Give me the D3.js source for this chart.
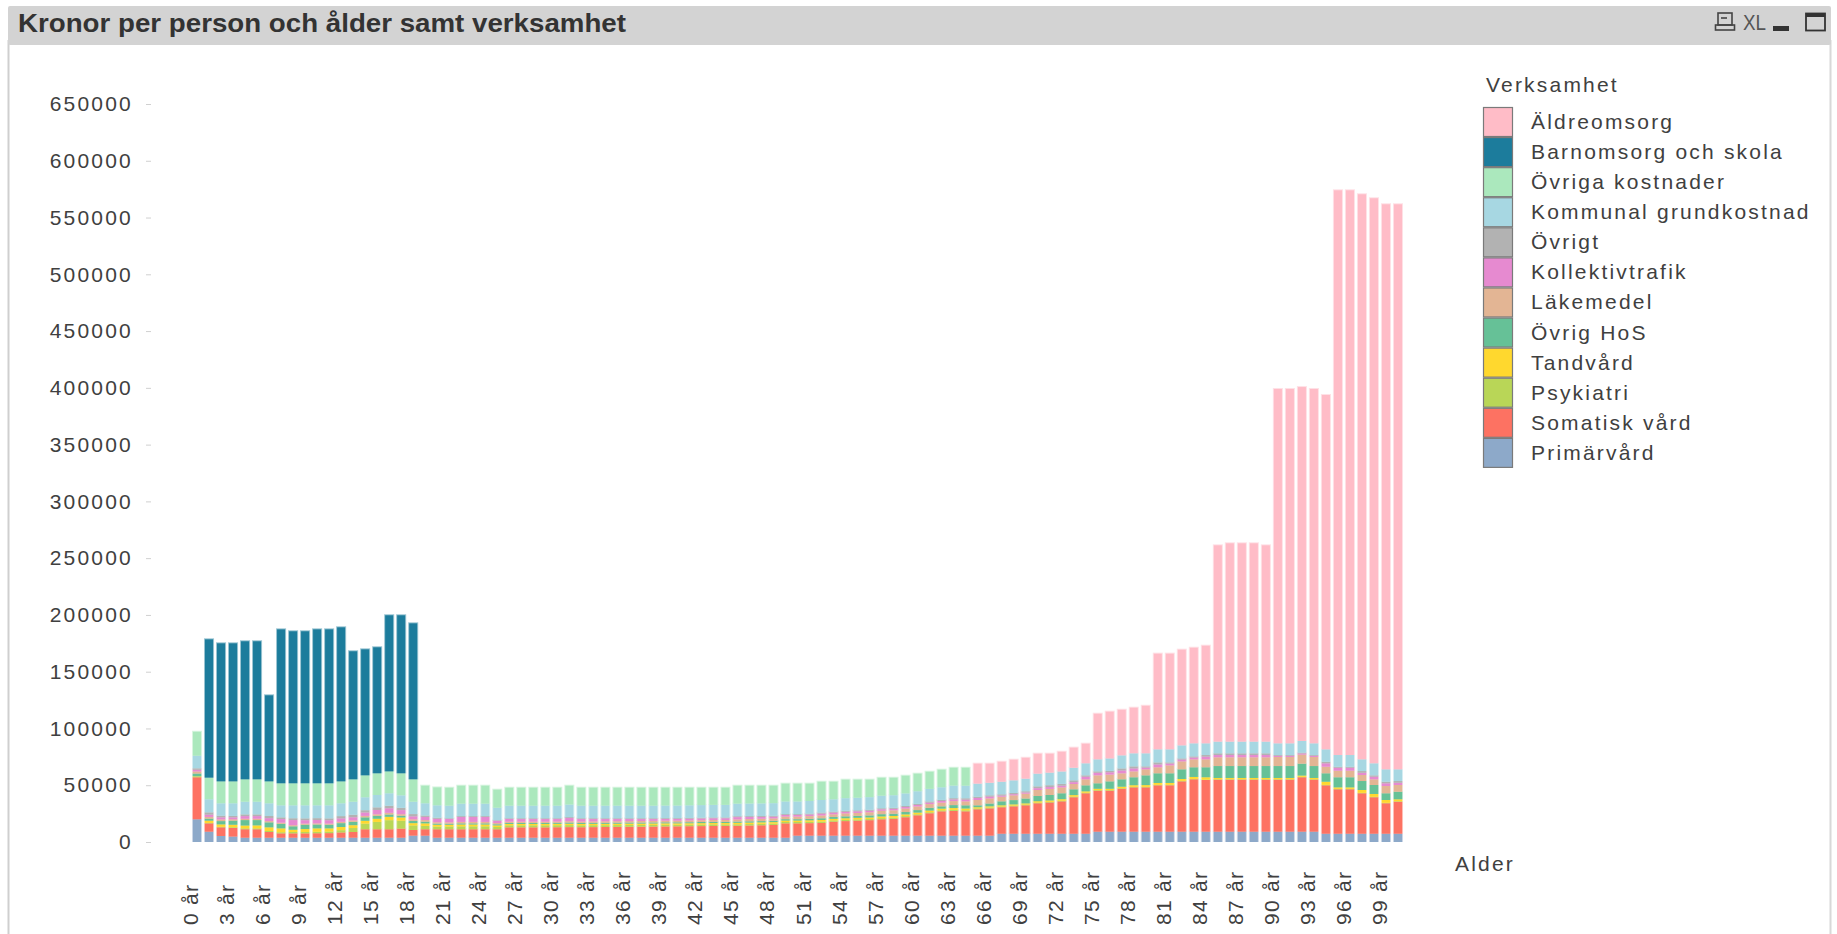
<!DOCTYPE html>
<html><head><meta charset="utf-8">
<script src="https://cdn.jsdelivr.net/npm/d3@7"></script>
<style>
body{margin:0;background:#fff;}
svg text{font-family:"Liberation Sans",Arial,sans-serif;}
</style>
</head><body>
<svg id="chart" width="1837" height="934"></svg>
<script>
// ---------- DATA ----------
const ages = [0,1,2,3,4,5,6,7,8,9,10,11,12,13,14,15,16,17,18,19,20,21,22,23,24,25,26,27,28,29,30,31,32,33,34,35,36,37,38,39,40,41,42,43,44,45,46,47,48,49,50,51,52,53,54,55,56,57,58,59,60,61,62,63,64,65,66,67,68,69,70,71,72,73,74,75,76,77,78,79,80,81,82,83,84,85,86,87,88,89,90,91,92,93,94,95,96,97,98,99,100];
const xTickAges = [0,3,6,9,12,15,18,21,24,27,30,33,36,39,42,45,48,51,54,57,60,63,66,69,72,75,78,81,84,87,90,93,96,99];
const yTicks = [0,50000,100000,150000,200000,250000,300000,350000,400000,450000,500000,550000,600000,650000];

const primarvard = [20000,9100,5300,4800,3800,3800,3800,3800,3800,3800,
 3800,3800,3800,3800,3800,3800,3800,3800,5600,5600,
 3800,3800,3800,3800,3800,3800,3800,3800,3800,3800,
 3800,3800,3800,3800,3800,3800,3800,3800,3800,3800,
 3800,3800,3800,3800,3800,3800,3800,3800,3800,3800,
 5600,5600,5600,5600,5600,5600,5600,5600,5600,5600,
 5600,5600,5600,5600,5600,5600,5600,7300,7300,7300,
 7300,7300,7300,7300,7300,9100,9100,9100,9100,9100,
 9100,9100,9100,9100,9100,9100,9100,9100,9100,9100,
 9100,9100,9100,9100,7300,7300,7300,7300,7300,7300,
 7300];
const somatiskVard = [37000,7300,7600,7600,7400,7400,5000,3800,3800,3800,
 3900,4000,4600,5000,7400,7400,7400,8000,5000,5600,
 7400,7400,7400,7400,7400,7400,9100,9100,9100,9100,
 9200,9300,9200,9300,9400,9500,9600,9700,9800,9900,
 10000,10100,10200,10300,10400,10500,10700,10900,11200,12600,
 10800,11000,11200,12300,12800,13200,13600,14400,14800,16200,
 17900,19700,21400,21800,21400,23200,24000,23300,24100,25000,
 26800,27500,28500,32100,35600,36100,36100,37800,39000,39000,
 40800,40800,44300,46100,45500,45800,45800,45800,45800,45800,
 45800,45800,47900,45800,42600,39100,39100,35600,32100,26800,
 28200];
const psykiatri = [300,400,500,600,800,800,900,1000,1200,1200,
 1300,1400,2000,3500,5000,6500,8000,7000,4000,3000,
 2400,2500,2600,2600,2600,2000,1800,1800,1800,1800,
 1800,1800,1700,1700,1600,1600,1600,1500,1500,1500,
 1400,1400,1400,1400,1300,1300,1300,1300,1200,1200,
 1200,1200,1200,1100,1100,1100,1000,1000,1000,1000,
 900,900,900,900,900,800,800,700,700,700,
 600,600,600,600,500,500,500,500,500,500,
 500,500,500,400,400,400,400,400,400,400,
 400,400,400,400,400,400,400,400,400,400,
 400];
const tandvard = [500,2000,2100,2200,2500,2600,3200,3400,2000,2600,
 3000,2800,2800,2500,2500,2800,3000,2800,2000,2200,
 1600,1500,1600,1600,1600,1400,1200,1200,1200,1200,
 1200,1200,1200,1200,1200,1200,1200,1200,1200,1200,
 1200,1200,1200,1200,1200,1300,1300,1300,1300,1300,
 1300,1300,1400,1400,1400,1400,1400,1500,1500,1500,
 1500,1500,1500,1600,1600,1000,1000,1000,1000,1000,
 1200,1200,1300,1300,1200,1200,1200,1300,1400,1500,
 1600,1600,1600,1700,2000,1100,1100,1100,1100,1100,
 1100,1100,1100,1100,2800,1300,1300,2500,2500,2500,
 1700];
const ovrigHoS = [2500,1800,2900,3600,4800,4700,4400,4000,3000,3800,
 3400,3200,3400,3000,3000,2500,2000,1500,2000,1500,
 1000,900,1000,1000,1000,1000,900,900,900,900,
 900,1000,900,900,900,900,900,900,900,900,
 900,900,1000,1000,1000,1100,1100,1100,1100,1200,
 1200,1300,1500,1600,1700,1700,1800,2000,2000,2100,
 2200,2400,2000,2600,2800,1700,2500,3500,3800,4300,
 4600,4800,5200,5100,5300,4800,6500,6500,7000,8600,
 8500,8500,8500,8500,8800,10500,10500,10500,10500,10500,
 10500,10500,10500,10500,7400,8900,8900,7900,7900,5900,
 6700];
const lakemedel = [1800,1500,1500,1200,1200,1200,1100,1000,1000,1000,
 1000,1000,1200,1200,1300,1400,1500,1400,1400,1400,
 1200,1200,1300,1300,1300,1100,1100,1100,1100,1100,
 1100,1200,1200,1200,1300,1300,1300,1400,1400,1500,
 1500,1600,1600,1700,1700,1900,2000,2100,2200,2300,
 2300,2400,2500,2400,2600,2600,2800,3000,3000,3100,
 3200,3300,3300,3500,3500,4700,4500,4100,4200,4300,
 5300,5400,5200,4700,5300,7000,6000,5300,5200,5300,
 5300,7000,7000,7000,7000,7700,7700,7700,7700,7700,
 8000,8000,8000,8000,5800,5800,5800,5300,5000,6400,
 5900];
const kollektivtrafik = [1500,2000,1800,1700,2300,2300,2600,3200,4500,3000,
 3000,3000,3000,2800,3000,3800,4000,3600,2600,2800,
 3000,3000,4300,4300,4300,2000,2400,2300,2300,2300,
 2200,2800,2200,2100,2000,1900,1800,1700,1600,1500,
 1500,1500,1500,1500,1500,2000,1800,1600,1500,1400,
 1400,1400,1600,1500,1400,1400,1300,1300,1300,1300,
 1300,1300,1400,1500,1500,1800,1600,1000,1000,1000,
 1600,1600,1500,1600,2300,2300,2000,2500,2600,1500,
 2500,1600,1600,1600,2400,2000,2000,2000,2000,2000,
 1000,1000,1000,1000,3000,2600,2600,2000,2300,2400,
 2000];
const ovrigt = [1300,2000,1500,1300,1500,1500,1900,1500,1600,1600,
 1600,1600,2000,2200,2000,2300,2200,2000,2000,1200,
 1000,600,800,800,800,500,600,700,700,700,
 700,800,700,700,700,700,700,700,700,700,
 700,700,700,700,700,800,800,800,800,800,
 800,800,900,800,900,900,900,900,900,900,
 1000,1000,1000,1100,1200,1100,1100,1100,1100,1100,
 1600,1600,1600,1600,1200,1200,1200,1800,1800,1100,
 1800,1000,1000,1000,1400,1500,1500,1500,1500,1500,
 700,700,700,700,1400,900,900,1500,1200,1400,
 1500];
const kommunalGrundkostnad = [11100,11500,10900,11100,11200,11200,11200,10600,11400,11500,
 11300,11500,11300,11500,11400,10900,11000,11000,10900,10800,
 10900,11100,11000,11000,11000,11000,11100,11100,11100,11100,
 11100,11100,11100,11100,11100,11100,11100,11100,11100,11100,
 11100,11100,11100,11100,11100,11100,11100,11100,11100,11100,
 11100,11100,11100,10900,11100,11100,11100,11100,11100,11100,
 11100,11100,11100,11100,11100,11500,11100,11100,11100,11100,
 11200,11100,10900,11100,10600,10600,11000,11500,11500,11500,
 11500,11500,11500,11500,10300,10300,10300,10300,10300,10300,
 10300,10300,10300,10300,10900,10300,10300,10300,10600,10900,
 10300];
const ovrigaKostnader = [21100,19100,19300,19300,19700,19700,19300,19400,19400,19400,
 19400,19400,19300,19700,19300,19100,19300,19400,19700,15500,
 15800,15800,15800,15800,15800,15900,15800,15800,15800,15800,
 15800,16600,15800,15800,15800,15800,15800,15800,15800,15700,
 15700,15500,15300,15100,15100,15800,15700,15600,15400,15700,
 15700,15300,16100,15500,16300,15900,15400,15800,15400,15600,
 15500,15100,15500,15700,15800,0,0,0,0,0,
 0,0,0,0,0,0,0,0,0,0,
 0,0,0,0,0,0,0,0,0,0,
 0,0,0,0,0,0,0,0,0,0,
 0];
const barnomsorgOchSkola = [0,121800,121600,121600,121600,121600,75800,135600,133900,133900,
 135600,135600,135700,112800,111000,111000,137500,139200,137400,0,
 0,0,0,0,0,0,0,0,0,0,
 0,0,0,0,0,0,0,0,0,0,
 0,0,0,0,0,0,0,0,0,0,
 0,0,0,0,0,0,0,0,0,0,
 0,0,0,0,0,0,0,0,0,0,
 0,0,0,0,0,0,0,0,0,0,
 0,0,0,0,0,0,0,0,0,0,
 0,0,0,0,0,0,0,0,0,0,
 0];
const aldreomsorg = [0,0,0,0,0,0,0,0,0,0,
 0,0,0,0,0,0,0,0,0,0,
 0,0,0,0,0,0,0,0,0,0,
 0,0,0,0,0,0,0,0,0,0,
 0,0,0,0,0,0,0,0,0,0,
 0,0,0,0,0,0,0,0,0,0,
 0,0,0,0,0,17600,16800,17600,18200,18400,
 17600,16700,17400,17700,17300,40200,41200,40200,40200,41900,
 84300,84300,84300,84200,86000,172900,174700,174700,174700,172900,
 312100,312100,311700,312100,312100,497400,497400,497700,497700,497700,
 497700];

// stacking order bottom -> top
const seriesNames = ["Primärvård","Somatisk vård","Psykiatri","Tandvård","Övrig HoS","Läkemedel","Kollektivtrafik","Övrigt","Kommunal grundkostnad","Övriga kostnader","Barnomsorg och skola","Äldreomsorg"];
const seriesValues = [primarvard,somatiskVard,psykiatri,tandvard,ovrigHoS,lakemedel,kollektivtrafik,ovrigt,kommunalGrundkostnad,ovrigaKostnader,barnomsorgOchSkola,aldreomsorg];
const seriesColors = ["#8da9c9","#fd7262","#b9d657","#ffd82e","#66c197","#e3b594","#e68ad0","#b2b2b2","#a7d7e2","#abe8bd","#1c7c9c","#ffbcc7"];

const titleText = "Kronor per person och ålder samt verksamhet";
const legendTitle = "Verksamhet";
const xAxisTitle = "Alder";

// ---------- CHART ----------
const svg = d3.select("#chart");
const FS = "21px", LS = "2.2px";

// frame
svg.append("rect").attr("x",0).attr("y",0).attr("width",1837).attr("height",934).attr("fill","#fff");
svg.append("line").attr("x1",8.5).attr("x2",8.5).attr("y1",40).attr("y2",934).attr("stroke","#cfcfcf").attr("stroke-width",2);
svg.append("line").attr("x1",1830.5).attr("x2",1830.5).attr("y1",40).attr("y2",934).attr("stroke","#d8d8d8").attr("stroke-width",2);
svg.append("rect").attr("x",8).attr("y",6).attr("width",1823).attr("height",39).attr("rx",2).attr("fill","#d3d3d3");
svg.append("text").attr("x",18).attr("y",32).attr("fill","#333")
  .style("font-family","'Liberation Sans Narrow','Liberation Sans',sans-serif")
  .style("font-weight","bold").style("font-size","26px")
  .attr("textLength",608).attr("lengthAdjust","spacingAndGlyphs")
  .text(titleText);

// header icons
const ic = svg.append("g").attr("fill","none").attr("stroke","#444").attr("stroke-width",1.6);
ic.append("rect").attr("x",1718).attr("y",13).attr("width",14).attr("height",12);
ic.append("rect").attr("x",1715.5).attr("y",25).attr("width",19).attr("height",5);
ic.append("line").attr("x1",1721).attr("x2",1727).attr("y1",18).attr("y2",18);
svg.append("text").attr("x",1743).attr("y",30).attr("fill","#555")
  .style("font-family","'Liberation Sans Narrow',sans-serif").style("font-size","22px")
  .attr("textLength",23).attr("lengthAdjust","spacingAndGlyphs").text("XL");
svg.append("rect").attr("x",1773).attr("y",26).attr("width",16).attr("height",5).attr("fill","#333");
svg.append("rect").attr("x",1806).attr("y",13.5).attr("width",19).attr("height",17).attr("fill","none").attr("stroke","#333").attr("stroke-width",1.8);
svg.append("rect").attr("x",1806).attr("y",13).attr("width",19).attr("height",4).attr("fill","#333");

// scales
const x = d3.scaleBand().domain(ages).range([191,1404]).paddingInner(0.33).paddingOuter(0.165);
const y = d3.scaleLinear().domain([0,650000]).range([842,104]);

// stacked data
const table = ages.map((a,i)=>{const r={age:a}; seriesNames.forEach((n,k)=>r[n]=seriesValues[k][i]); return r;});
const stacked = d3.stack().keys(seriesNames)(table);
const colorOf = d3.scaleOrdinal().domain(seriesNames).range(seriesColors);
const halo = n => d3.interpolateRgb(colorOf(n),"#ffffff")(0.55);

// halos first
const gHalo = svg.append("g");
stacked.forEach(s=>{
  gHalo.selectAll(null).data(s.filter(d=>d[1]-d[0]>0)).enter().append("rect")
    .attr("x",d=>x(d.data.age)-1).attr("width",x.bandwidth()+2)
    .attr("y",d=>y(d[1])-1).attr("height",d=>y(d[0])-y(d[1])+1)
    .attr("fill",halo(s.key));
});
const gBars = svg.append("g");
stacked.forEach(s=>{
  gBars.selectAll(null).data(s.filter(d=>d[1]-d[0]>0)).enter().append("rect")
    .attr("x",d=>x(d.data.age)).attr("width",x.bandwidth())
    .attr("y",d=>y(d[1])).attr("height",d=>y(d[0])-y(d[1]))
    .attr("fill",colorOf(s.key));
});

// y axis
const yAxis = svg.append("g").attr("transform","translate(151,0)")
  .call(d3.axisLeft(y).tickValues(yTicks).tickFormat(d3.format("d")).tickSize(5).tickPadding(13));
yAxis.select(".domain").remove();
yAxis.selectAll(".tick line").attr("stroke","#d0d0d0");
yAxis.selectAll(".tick text").attr("fill","#404040").style("font-size",FS).style("letter-spacing",LS)
  .style("font-family","'Liberation Sans',Arial,sans-serif");

// x axis
const xAxis = svg.append("g").attr("transform","translate(0,842)")
  .call(d3.axisBottom(x).tickValues(xTickAges).tickFormat(d=>d+" år").tickSize(0));
xAxis.select(".domain").remove();
xAxis.selectAll(".tick text").attr("fill","#404040").style("font-size",FS).style("letter-spacing","1.3px")
  .style("font-family","'Liberation Sans',Arial,sans-serif")
  .attr("transform","rotate(-90)").attr("x",-83).attr("y",1).attr("dy",0).attr("text-anchor","start");

svg.append("text").attr("x",1455).attr("y",871).attr("fill","#404040")
  .style("font-size",FS).style("letter-spacing",LS).text(xAxisTitle);

// legend
const lg = svg.append("g");
lg.append("text").attr("x",1486).attr("y",92).attr("fill","#404040").style("font-size",FS).style("letter-spacing",LS).text(legendTitle);
const legendOrder = seriesNames.slice().reverse();
legendOrder.forEach((n,i)=>{
  const yy = 107.5 + i*30.08;
  lg.append("rect").attr("x",1483.5).attr("y",yy).attr("width",29).attr("height",29)
    .attr("fill",colorOf(n)).attr("stroke","#7a7a7a").attr("stroke-width",1.2);
  lg.append("text").attr("x",1531).attr("y",yy+21.5).attr("fill","#404040")
    .style("font-size",FS).style("letter-spacing",LS).text(n);
});
</script>
</body></html>
